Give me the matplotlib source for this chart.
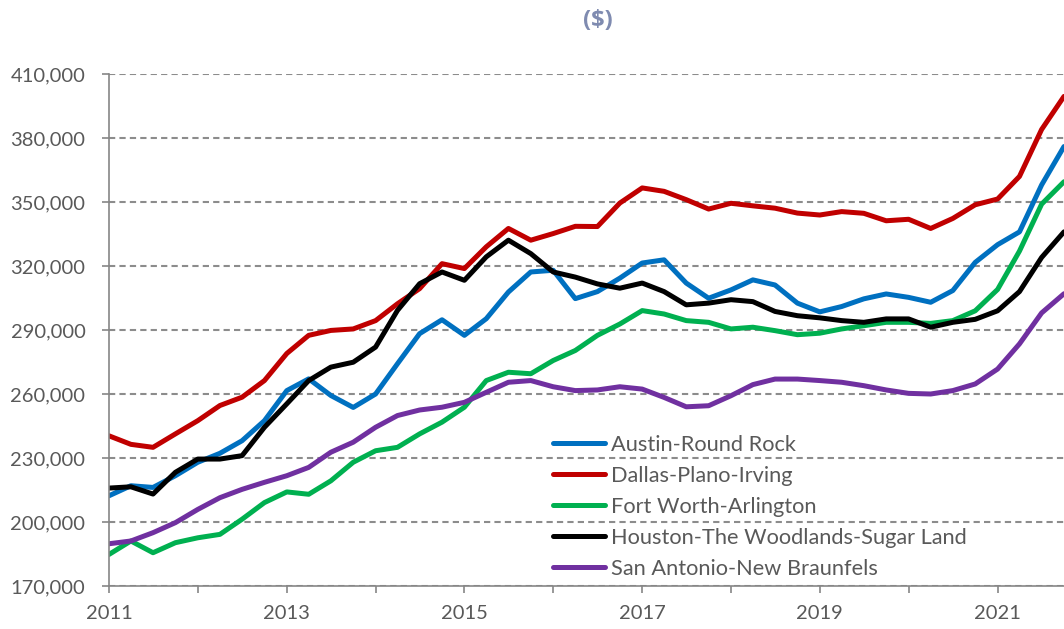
import matplotlib
matplotlib.use("Agg")
import matplotlib.pyplot as plt
import matplotlib.dates as mdates
from matplotlib.ticker import FuncFormatter
import pandas as pd

# quarterly readings, 2011Q1 .. 2021Q4
quarters = pd.date_range("2011-01-01", "2021-10-01", freq="QS")

metros = ["Austin-Round Rock", "Dallas-Plano-Irving", "Fort Worth-Arlington",
          "Houston-The Woodlands-Sugar Land", "San Antonio-New Braunfels"]
colors = ["#0070C0", "#C00000", "#00B050", "#000000", "#7030A0"]

austin = [212300, 217000, 216200, 221700, 228000, 232200, 238100, 247500,
          261600, 267100, 259300, 253700, 260000, 274200, 288300, 294800,
          287500, 295300, 307800, 317200, 318000, 304700, 308000, 314300,
          321400, 322900, 312000, 304900, 308800, 313500, 311100, 302600,
          298500, 301000, 304600, 306900, 305300, 303000, 308500, 321700,
          330000, 336000, 358000, 376000]
dallas = [240400, 236400, 235000, 241300, 247500, 254600, 258500, 266300,
          279000, 287500, 289800, 290500, 294400, 302300, 309400, 321100,
          318800, 329000, 337600, 332100, 335200, 338600, 338500, 349500,
          356600, 355000, 351100, 346700, 349400, 348200, 347100, 344800,
          343900, 345500, 344700, 341200, 341900, 337600, 342300, 348700,
          351400, 362000, 384000, 399500]
fort_worth = [184800, 191100, 185600, 190300, 192600, 194200, 201300, 209100,
              214100, 213000, 219300, 228000, 233400, 235000, 241300, 246800,
              253800, 266300, 270200, 269500, 275700, 280400, 287500, 292800,
              299100, 297500, 294400, 293600, 290500, 291300, 289700, 287800,
              288500, 290500, 292000, 293600, 293600, 293100, 294400, 299000,
              309000, 327000, 349000, 359500]
houston = [215900, 216500, 213100, 223300, 229500, 229500, 231100, 244400,
           255400, 266300, 272600, 274900, 282000, 299200, 311700, 317200,
           313300, 324300, 332100, 325800, 317200, 314800, 311600, 309600,
           312000, 308000, 301800, 302600, 304200, 303300, 298700, 296700,
           295700, 294400, 293600, 295200, 295200, 291300, 293600, 295000,
           299000, 308000, 324000, 336000]
san_antonio = [189800, 191100, 195000, 199700, 205900, 211400, 215300, 218600,
               221700, 225600, 232700, 237400, 244400, 249900, 252500, 253800,
               256100, 260800, 265500, 266300, 263400, 261600, 261900, 263400,
               262300, 258400, 254000, 254500, 259200, 264400, 267000, 267000,
               266300, 265500, 263900, 261900, 260300, 260000, 261600, 264700,
               271700, 283500, 298000, 307000]

y_ticks = list(range(170000, 410001, 30000))

plt.rcParams["font.family"] = ["Lato", "DejaVu Sans"]
text_col = "#595959"
axis_col = "#868686"

fig = plt.figure(figsize=(10.64, 6.29), dpi=100)
ax = fig.add_axes([109 / 1064, 1 - 586 / 629, 955 / 1064, 512 / 629])

series = [austin, dallas, fort_worth, houston, san_antonio]
for name, vals, col in zip(metros, series, colors):
    ax.plot(quarters, vals, color=col, lw=3.6, label=name,
            solid_capstyle="round", solid_joinstyle="round")

ax.set_xlim(quarters[0], quarters[-1])
ax.set_ylim(y_ticks[0], y_ticks[-1])
ax.set_yticks(y_ticks)
ax.yaxis.set_major_formatter(FuncFormatter(lambda v, _: f"{v:,.0f}"))

ax.xaxis.set_major_locator(mdates.YearLocator(1))
def _year_lab(v, _):
    y = mdates.num2date(v).year
    return str(y) if y % 2 == 1 else ""
ax.xaxis.set_major_formatter(FuncFormatter(_year_lab))

ax.yaxis.grid(True, linestyle=(0, (3, 2)), color="#8c8c8c", lw=1.5)
ax.set_axisbelow(True)

for s in ["top", "right"]:
    ax.spines[s].set_visible(False)
for s in ["left", "bottom"]:
    ax.spines[s].set_color(axis_col)
    ax.spines[s].set_linewidth(1.2)

ax.tick_params(axis="y", length=5, width=1.2, color=axis_col, pad=12,
               labelsize=14.5, labelcolor=text_col)
ax.tick_params(axis="x", length=5, width=1.2, color=axis_col, pad=9,
               labelsize=14.5, labelcolor=text_col)

fig.text(598 / 1064, 1 - 21 / 629, "($)", ha="center", va="center",
         fontsize=17, fontweight="bold", color="#7F8BB0",
         family=["Open Sans", "DejaVu Sans"])

ax.legend(loc="upper left", bbox_to_anchor=(553 / 1064, 1 - 435 / 629),
          bbox_transform=fig.transFigure, frameon=False, fontsize=15.7,
          labelcolor=text_col, handlelength=2.4, handletextpad=0.25,
          labelspacing=0.5, borderpad=0, borderaxespad=0)

fig.savefig("out.png", dpi=100)
